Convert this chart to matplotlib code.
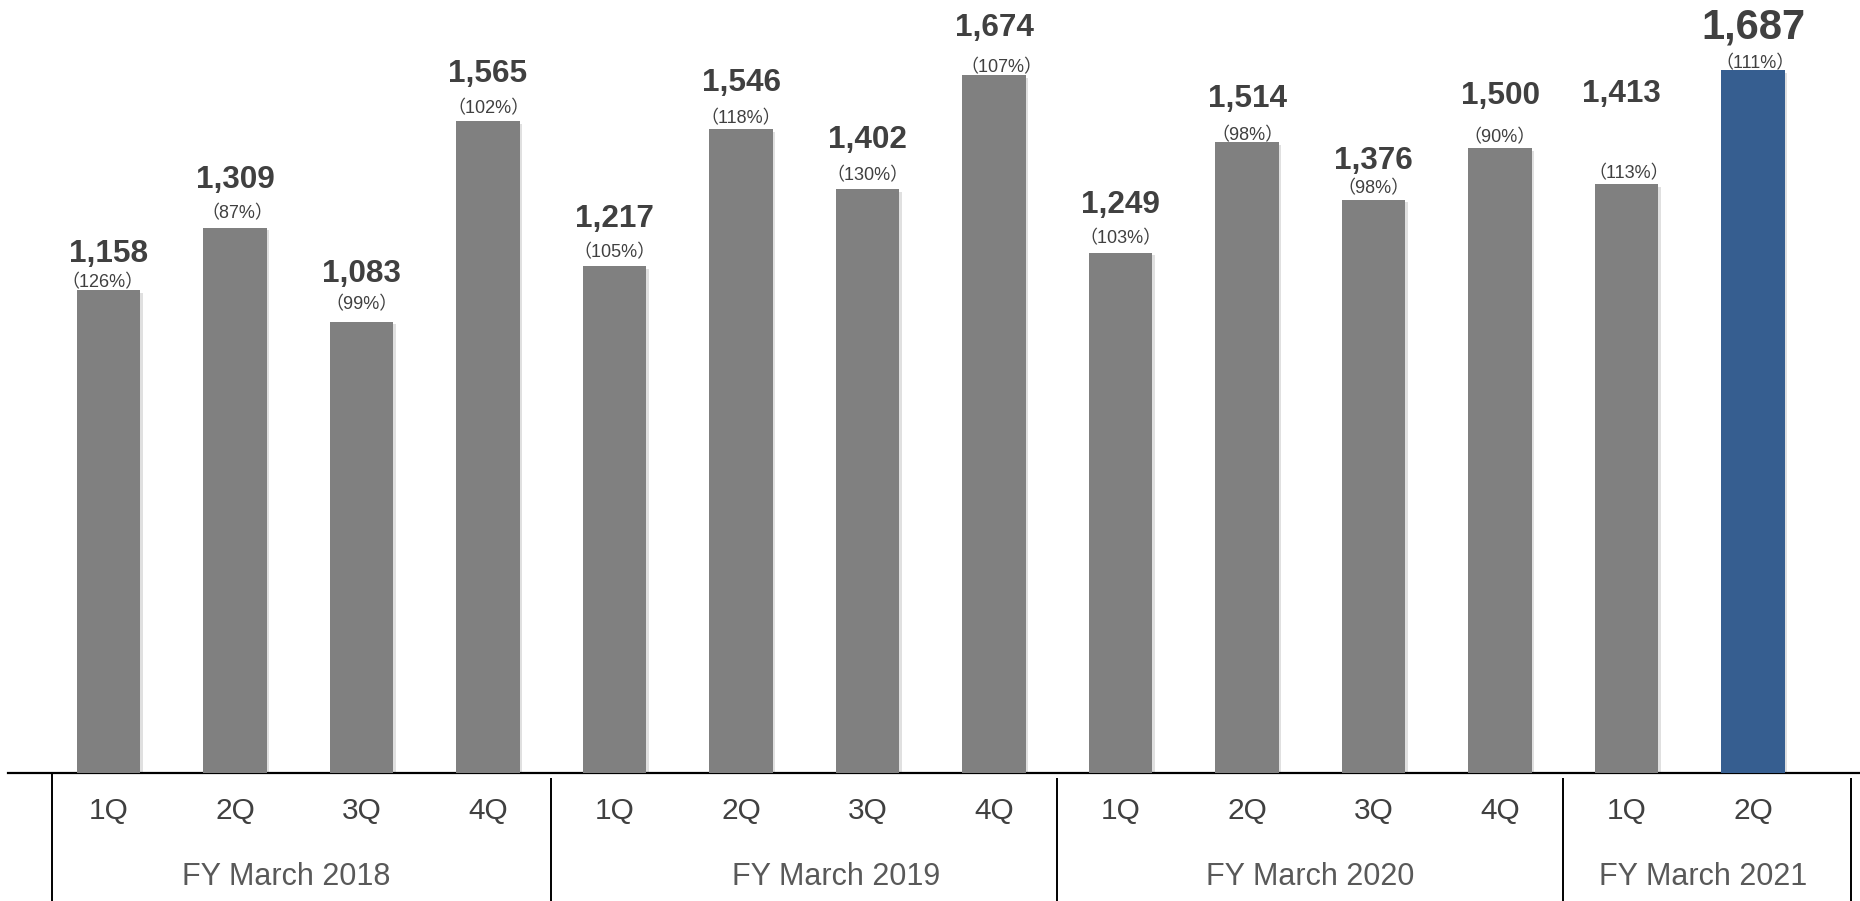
import matplotlib
matplotlib.use("Agg")
import matplotlib.pyplot as plt
import matplotlib.patheffects as pe

# ---------------- data ----------------
quarters = ["1Q", "2Q", "3Q", "4Q", "1Q", "2Q", "3Q", "4Q",
            "1Q", "2Q", "3Q", "4Q", "1Q", "2Q"]
values = [1158, 1309, 1083, 1565, 1217, 1546, 1402, 1674,
          1249, 1514, 1376, 1500, 1413, 1687]
yoy_pct = [126, 87, 99, 102, 105, 118, 130, 107,
           103, 98, 98, 90, 113, 111]
groups = ["FY March 2018", "FY March 2019", "FY March 2020", "FY March 2021"]
group_sizes = [4, 4, 4, 2]

# ---------------- layout / style ----------------
W, H, DPI = 1860, 901, 100
GRAY = "#808080"
BLUE = "#365E90"
TXT = "#404040"
TXT2 = "#595959"
FONT = "Liberation Sans"
PCT_FONT = ["Liberation Sans", "Noto Sans CJK JP"]

# per-bar label offsets (pixels above bar top)
value_gap = [28, 40, 40, 39, 39, 38, 41, 39, 40, 35, 31, 44, 82, 32]
pct_gap = [3, 9, 12, 8, 9, 6, 9, 3, 9, 2, 6, 6, 6, 2]
pct_dx = [-6, 2, 0, 0, 0, 0, 0, 7, 0, 0, 0, 0, 2, 2]
value_dx = [0, 0, 0, 0, 0, 0, 0, 0, 0, 0, 0, 0, -5, 0]
group_dx = [-12, 32, 0, 13]

fig = plt.figure(figsize=(W / DPI, H / DPI), dpi=DPI)
base_px = 773
ax = fig.add_axes([0, 1 - base_px / H, 1, base_px / H])
ax.patch.set_visible(False)

pitch = 126.5
x0_px = 108.5
ax.set_xlim(-x0_px / pitch, (W - x0_px) / pitch)
ax.set_ylim(0, base_px / 0.4167)

xs = list(range(len(values)))
colors = [GRAY] * (len(values) - 1) + [BLUE]
bars = ax.bar(xs, values, width=0.5, color=colors, zorder=3)
for b in bars:
    b.set_path_effects([pe.SimplePatchShadow(offset=(2, -2), shadow_rgbFace="#000000", alpha=0.12),
                        pe.Normal()])

# value and % labels
for i, (x, v, p) in enumerate(zip(xs, values, yoy_pct)):
    big = (i == len(values) - 1)
    ax.annotate(f"{v:,}", xy=(x, v), xytext=(value_dx[i], value_gap[i]), textcoords="offset pixels",
                ha="center", va="baseline", fontsize=30 if big else 22.7, fontweight="bold",
                color=TXT, family=FONT, zorder=5)
    ax.annotate(f"（{p}%）", xy=(x, v), xytext=(pct_dx[i], pct_gap[i]), textcoords="offset pixels",
                ha="center", va="baseline", fontsize=13, color=TXT, family=PCT_FONT, zorder=5)

# axis line
for s in ["top", "right", "left"]:
    ax.spines[s].set_visible(False)
ax.spines["bottom"].set_linewidth(1.6)
ax.spines["bottom"].set_color("black")
ax.spines["bottom"].set_bounds((8 - x0_px) / pitch, (W - x0_px) / pitch)
ax.set_xticks([])
ax.set_yticks([])

# category labels
trans = ax.get_xaxis_transform()
ax_h = base_px
for x, q in zip(xs, quarters):
    ax.text(x, -(811 - base_px) / ax_h, q, transform=trans, ha="center", va="center",
            fontsize=21.5, color=TXT, family=FONT, clip_on=False)

# group separators and labels
bottom = -(H - base_px) / ax_h
start = 0
bounds = [-0.447]
for gs in group_sizes:
    start += gs
    bounds.append(start - 0.5)
bounds[-1] = 13.775
for j, bx in enumerate(bounds):
    top = 0 if j == 0 else -0.007
    ax.plot([bx, bx], [top, bottom], transform=trans, color="black", lw=1.4, clip_on=False,
            solid_capstyle="butt")

start = 0
for g, gs, dx in zip(groups, group_sizes, group_dx):
    cx = start + (gs - 1) / 2 + dx / pitch
    ax.text(cx, -(877 - base_px) / ax_h, g, transform=trans, ha="center", va="center",
            fontsize=22, color=TXT2, family=FONT, clip_on=False)
    start += gs

fig.savefig("out.png", dpi=DPI)
